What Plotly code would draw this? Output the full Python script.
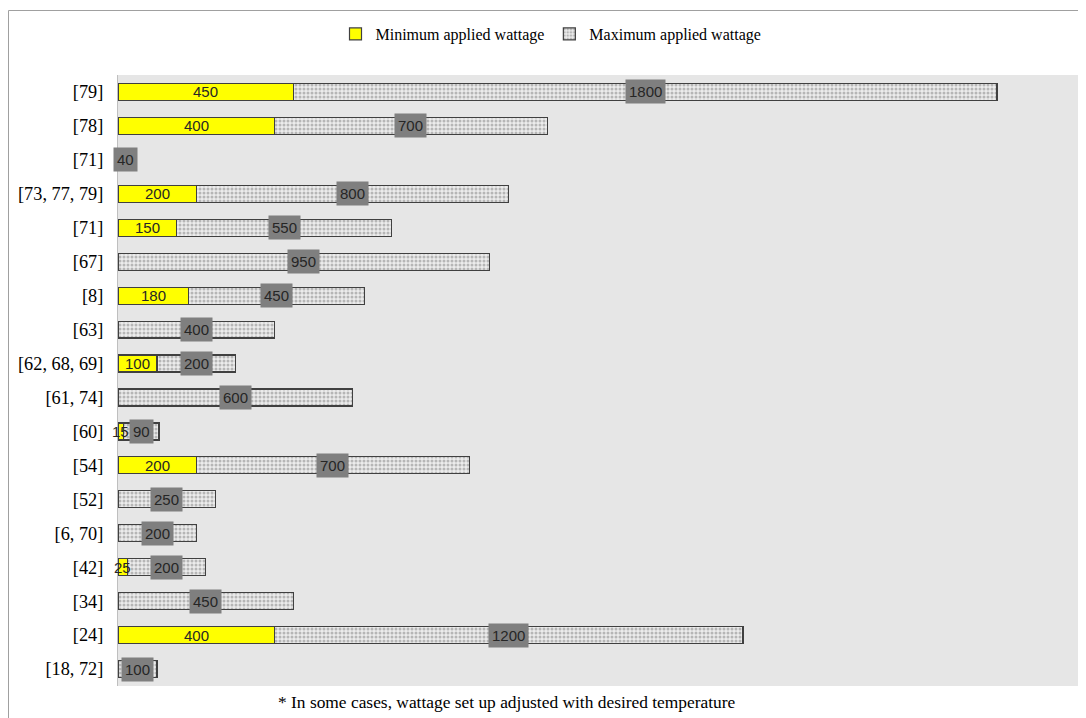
import plotly.graph_objects as go

refs = ["[79]", "[78]", "[71]", "[73, 77, 79]", "[71]", "[67]", "[8]", "[63]",
        "[62, 68, 69]", "[61, 74]", "[60]", "[54]", "[52]", "[6, 70]", "[42]",
        "[34]", "[24]", "[18, 72]"]
min_watt = [450, 400, None, 200, 150, None, 180, None, 100, None, 15, 200, None, None, 25, None, 400, None]
max_watt = [1800, 700, 40, 800, 550, 950, 450, 400, 200, 600, 90, 700, 250, 200, 200, 450, 1200, 100]

pos = list(range(len(refs)))
serif = "Liberation Serif, Times New Roman, serif"
sans = "Liberation Sans, Arial, sans-serif"

# figure is rendered at an 8px page offset; plot area in screen coords: x 118..1086, y 75..686
W, H = 1078, 710
L, T, B = 110, 67, 32
pw, ph = W - L, H - T - B


def px(xf):  # figure x pixel -> paper
    return (xf - L) / pw


def py(yf):  # figure y pixel -> paper
    return (H - B - yf) / ph


fig = go.Figure()
fig.add_trace(go.Bar(
    y=pos, x=min_watt, orientation="h", name="Minimum applied wattage",
    marker=dict(color="#ffff00", line=dict(color="#404040", width=1.2)),
    width=0.5,
))
fig.add_trace(go.Bar(
    y=pos, x=max_watt, orientation="h", name="Maximum applied wattage",
    marker=dict(color="white", line=dict(color="#404040", width=1.2),
                pattern=dict(shape=".", fgcolor="#808080", bgcolor="#ececec", size=4, solidity=0.45)),
    width=0.5,
))

annotations = []
for i, (mn, mx) in enumerate(zip(min_watt, max_watt)):
    base = mn or 0
    if mn:
        annotations.append(dict(x=mn / 2, y=i, xref="x", yref="y", text=str(mn),
                                showarrow=False, font=dict(family=sans, size=15, color="#262626")))
    annotations.append(dict(x=base + mx / 2, y=i, xref="x", yref="y", text=str(mx),
                            showarrow=False, bgcolor="#7f7f7f", borderpad=3,
                            font=dict(family=sans, size=15, color="#262626")))

annotations.append(dict(x=px(499), y=py(694), xref="paper", yref="paper",
                        text="* In some cases, wattage set up adjusted with desired temperature",
                        showarrow=False, xanchor="center", yanchor="middle",
                        font=dict(family=serif, size=17.4, color="black")))

shapes = [
    dict(type="line", xref="paper", yref="paper", x0=px(0.5), x1=1.0, y0=py(2.5), y1=py(2.5),
         line=dict(color="#a0a0a0", width=1)),
    dict(type="line", xref="paper", yref="paper", x0=px(0.5), x1=px(0.5), y0=py(H), y1=py(2.5),
         line=dict(color="#a0a0a0", width=1)),
]

fig.update_layout(
    barmode="stack",
    width=W, height=H,
    margin=dict(l=L, r=0, t=T, b=B),
    paper_bgcolor="white",
    plot_bgcolor="#e6e6e6",
    showlegend=True,
    legend=dict(orientation="h", x=px(543), y=py(26), xanchor="center", yanchor="middle",
                font=dict(family=serif, size=16, color="black"), bgcolor="rgba(0,0,0,0)",
                itemwidth=30, traceorder="normal"),
    xaxis=dict(range=[0, 2478], showgrid=False, zeroline=False, showticklabels=False,
               ticks="", showline=False),
    yaxis=dict(range=[17.5, -0.5], tickvals=pos, ticktext=refs, showgrid=False,
               zeroline=False, showline=True, linecolor="#bfbfbf", linewidth=1,
               ticks="", ticklabelstandoff=10,
               tickfont=dict(family=serif, size=18.3, color="black")),
    annotations=annotations,
    shapes=shapes,
)

fig.write_html("out.html")
